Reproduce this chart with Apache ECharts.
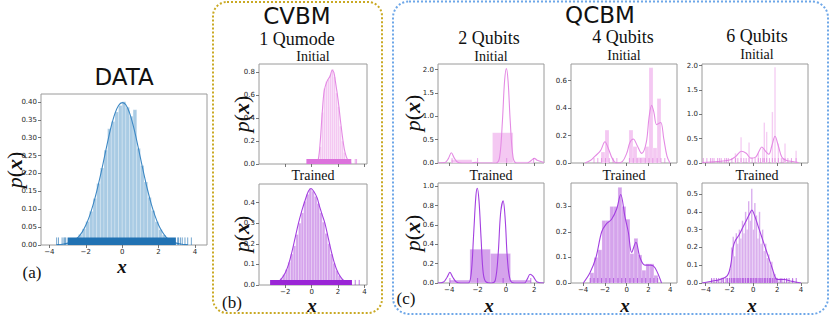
<!DOCTYPE html>
<html><head><meta charset="utf-8">
<script src="https://cdn.jsdelivr.net/npm/echarts@6/dist/echarts.min.js"></script>
<style>html,body{margin:0;padding:0;background:#fff}#c{width:830px;height:316px}</style>
</head><body><div id="c"></div>
<script>
// ---------------- values ----------------
// (a) DATA
const dataHist = [[-3.6,-3.4,0.002],[-3.4,-3.2,0.002],[-3.2,-3.0,0.004],[-3.0,-2.8,0.006],[-2.8,-2.6,0.011],[-2.6,-2.4,0.018],[-2.4,-2.2,0.029],[-2.2,-2.0,0.045],[-2.0,-1.8,0.066],[-1.8,-1.6,0.094],[-1.6,-1.4,0.13],[-1.4,-1.2,0.172],[-1.2,-1.0,0.215],[-1.0,-0.8,0.265],[-0.8,-0.6,0.325],[-0.6,-0.4,0.345],[-0.4,-0.2,0.372],[-0.2,0.0,0.39],[0.0,0.2,0.4],[0.2,0.4,0.385],[0.4,0.6,0.36],[0.6,0.8,0.378],[0.8,1.0,0.27],[1.0,1.2,0.222],[1.2,1.4,0.176],[1.4,1.6,0.133],[1.6,1.8,0.096],[1.8,2.0,0.065],[2.0,2.2,0.043],[2.2,2.4,0.028],[2.4,2.6,0.017],[2.6,2.8,0.01],[2.8,3.0,0.006],[3.0,3.2,0.003],[3.2,3.4,0.002],[3.6,3.8,0.002]];
const dataKde = [[-3.6,0.001],[-3.2,0.003],[-2.8,0.008],[-2.6,0.014],[-2.4,0.023],[-2.2,0.036],[-2.0,0.055],[-1.8,0.08],[-1.6,0.112],[-1.4,0.15],[-1.2,0.193],[-1.0,0.24],[-0.8,0.288],[-0.6,0.332],[-0.4,0.367],[-0.2,0.39],[0.0,0.398],[0.2,0.392],[0.4,0.37],[0.6,0.335],[0.8,0.292],[1.0,0.244],[1.2,0.197],[1.4,0.153],[1.6,0.114],[1.8,0.082],[2.0,0.056],[2.2,0.037],[2.4,0.023],[2.6,0.014],[2.8,0.008],[3.2,0.003],[3.6,0.001]];
const dataRug = [[-3.0,2.95],[-3.6,-3.6],[-3.5,-3.5],[-3.3,-3.3],[-3.2,-3.2],[-3.15,-3.15],[-3.1,-3.1],[3.05,3.05],[3.1,3.1],[3.2,3.2],[3.3,3.3],[3.45,3.45],[3.6,3.6],[3.8,3.8]];
const dataXTicks = [-4,-2,0,2,4];
const dataYTicks = [0,0.05,0.10,0.15,0.20,0.25,0.30,0.35,0.40];

// (b) CVBM, 1 qumode
const cvbmInitHist = [[0.45,0.6,0.02],[0.6,0.75,0.15],[0.75,0.9,0.45],[0.9,1.05,0.66],[1.05,1.2,0.72],[1.2,1.35,0.74],[1.35,1.5,0.78],[1.5,1.65,0.83],[1.65,1.8,0.76],[1.8,1.95,0.62],[1.95,2.1,0.5],[2.1,2.25,0.33],[2.25,2.4,0.2],[2.4,2.55,0.1],[2.55,2.7,0.04],[2.7,2.85,0.015]];
const cvbmInitKde = [[0.3,0],[0.5,0.04],[0.65,0.2],[0.8,0.45],[0.95,0.64],[1.15,0.72],[1.4,0.77],[1.55,0.82],[1.68,0.8],[1.8,0.72],[2.0,0.56],[2.2,0.36],[2.4,0.18],[2.55,0.09],[2.75,0.03],[3.0,0.005]];
const cvbmInitRug = [[-0.4,3.0],[3.3,3.3],[3.4,3.4]];
const cvbmTrainHist = [[-3.0,-2.8,0.005],[-2.8,-2.6,0.01],[-2.6,-2.4,0.018],[-2.4,-2.2,0.032],[-2.2,-2.0,0.05],[-2.0,-1.8,0.075],[-1.8,-1.6,0.11],[-1.6,-1.4,0.15],[-1.4,-1.2,0.19],[-1.2,-1.0,0.245],[-1.0,-0.8,0.3],[-0.8,-0.6,0.35],[-0.6,-0.4,0.405],[-0.4,-0.2,0.44],[-0.2,0.0,0.468],[0.0,0.2,0.455],[0.2,0.4,0.43],[0.4,0.6,0.395],[0.6,0.8,0.35],[0.8,1.0,0.305],[1.0,1.2,0.25],[1.2,1.4,0.2],[1.4,1.6,0.15],[1.6,1.8,0.105],[1.8,2.0,0.07],[2.0,2.2,0.045],[2.2,2.4,0.028],[2.4,2.6,0.016],[2.6,2.8,0.009],[2.8,3.0,0.005],[3.0,3.2,0.003]];
const cvbmTrainKde = [[-3.0,0.003],[-2.6,0.012],[-2.3,0.03],[-2.0,0.06],[-1.75,0.1],[-1.5,0.16],[-1.25,0.23],[-1.0,0.3],[-0.75,0.36],[-0.5,0.41],[-0.25,0.455],[-0.05,0.468],[0.15,0.455],[0.4,0.425],[0.6,0.38],[0.8,0.34],[1.0,0.3],[1.25,0.23],[1.5,0.16],[1.75,0.1],[2.0,0.06],[2.3,0.03],[2.6,0.012],[3.0,0.003]];
const cvbmTrainRug = [[-3.15,3.05],[3.3,3.3],[3.6,3.6]];
const cvbmXTicks = [-2,0,2,4];
const cvbmInitYTicks = [0,0.2,0.4,0.6,0.8];
const cvbmTrainYTicks = [0,0.1,0.2,0.3,0.4];

// (c) QCBM, 2 qubits
const q2InitHist = [[-3.85,-2.4,0.07],[-2.4,-0.95,0.008],[-0.95,0.5,0.65],[0.5,1.95,0.025]];
const q2InitKde = [[-4.8,0],[-4.3,0.01],[-4.05,0.1],[-3.85,0.22],[-3.65,0.11],[-3.4,0.015],[-3.1,0],[-2.4,0],[-2.1,0.015],[-1.9,0],[-0.7,0],[-0.45,0.12],[-0.25,0.9],[-0.1,1.75],[0.03,2.02],[0.15,1.75],[0.3,0.9],[0.5,0.12],[0.75,0],[1.5,0],[1.8,0.06],[2.0,0.1],[2.2,0.06],[2.68,0.01]];
const q2InitRug = [[-3.8,-3.8],[-2.0,-2.0],[0.05,0.05],[1.95,1.95]];
const q2TrainHist = [[-3.96,-2.54,0.03],[-2.54,-1.1,0.35],[-1.1,0.32,0.305],[0.32,1.74,0.03]];
const q2TrainKde = [[-4.8,0],[-4.4,0.01],[-4.15,0.06],[-3.95,0.11],[-3.75,0.06],[-3.5,0.01],[-3.2,0],[-2.65,0],[-2.45,0.1],[-2.28,0.5],[-2.12,0.9],[-2.02,0.98],[-1.9,0.85],[-1.75,0.45],[-1.6,0.1],[-1.4,0.01],[-1.0,0],[-0.75,0.03],[-0.55,0.3],[-0.38,0.72],[-0.2,0.85],[-0.05,0.65],[0.1,0.25],[0.3,0.03],[0.6,0],[1.3,0],[1.5,0.04],[1.7,0.09],[1.9,0.07],[2.2,0.01],[2.68,0]];
const q2TrainRug = [[-3.95,-3.95],[-2.0,-2.0],[-0.2,-0.2],[1.75,1.75]];
const q2XTicks = [-4,-2,0,2];
const q2InitYTicks = [0,0.5,1.0,1.5,2.0];
const q2TrainYTicks = [0,0.2,0.4,0.6,0.8,1.0];

// (c) QCBM, 4 qubits
const q4InitHist = [[-2.36,-1.99,0.08],[-1.99,-1.62,0.24],[0.21,0.58,0.24],[0.58,0.95,0.12],[0.95,1.31,0.04],[1.31,1.68,0.04],[1.68,2.05,0.12],[2.05,2.42,0.695],[2.42,2.79,0.11],[2.79,3.15,0.47]];
const q4InitKde = [[-3.83,0],[-3.3,0.02],[-2.9,0.05],[-2.4,0.09],[-1.99,0.155],[-1.7,0.11],[-1.3,0.03],[-0.92,0.0],[-0.4,0.01],[0.0,0.07],[0.3,0.15],[0.61,0.175],[0.95,0.13],[1.38,0.07],[1.8,0.15],[2.05,0.33],[2.29,0.42],[2.5,0.37],[2.75,0.28],[3.12,0.295],[3.4,0.18],[3.7,0.05],[3.97,0]];
const q4InitRug = [[-3.0,-3.0],[-2.65,-2.65],[-2.3,-2.3],[-1.95,-1.95],[-1.6,-1.6],[-1.25,-1.25],[-0.9,-0.9],[0.25,0.25],[0.6,0.6],[0.95,0.95],[1.3,1.3],[1.7,1.7],[2.05,2.05],[2.4,2.4],[2.8,2.8],[3.15,3.15],[3.5,3.5]];
const q4TrainHist = [[-3.37,-3.0,0.04],[-3.0,-2.64,0.1],[-2.64,-2.27,0.13],[-2.27,-1.9,0.245],[-1.9,-1.54,0.245],[-1.54,-1.17,0.3],[-1.17,-0.8,0.3],[-0.8,-0.44,0.375],[-0.44,-0.07,0.3],[-0.07,0.3,0.25],[0.3,0.67,0.115],[0.67,1.03,0.175],[1.03,1.4,0.11],[1.4,1.77,0.05],[1.77,2.13,0.075],[2.13,2.5,0.075],[2.5,2.87,0.03]];
const q4TrainKde = [[-3.98,0],[-3.37,0.04],[-2.82,0.1],[-2.3,0.2],[-1.9,0.23],[-1.38,0.25],[-0.92,0.29],[-0.55,0.347],[-0.16,0.26],[0.15,0.2],[0.46,0.12],[0.85,0.16],[1.22,0.1],[1.68,0.07],[2.2,0.07],[2.6,0.06],[3.2,0]];
const q4TrainRug = [[-3.35,-3.35],[-3.0,-3.0],[-2.65,-2.65],[-2.3,-2.3],[-1.9,-1.9],[-1.55,-1.55],[-1.2,-1.2],[-0.8,-0.8],[-0.45,-0.45],[-0.1,-0.1],[0.3,0.3],[0.65,0.65],[1.0,1.0],[1.4,1.4],[1.75,1.75],[2.15,2.15],[2.5,2.5],[2.85,2.85]];
const q4XTicks = [-4,-2,0,2,4];
const q4InitYTicks = [0,0.2,0.4,0.6];
const q4TrainYTicks = [0,0.1,0.2,0.3];

// (c) QCBM, 6 qubits
const q6InitHist = [[-1.56,-1.44,0.2],[-1.09,-0.97,0.53],[-0.42,-0.3,0.42],[0.36,0.48,0.2],[0.74,0.86,0.3],[0.86,0.98,0.83],[1.06,1.18,0.64],[1.54,1.66,1.05],[1.76,1.88,1.97],[2.04,2.16,0.4],[2.6,2.72,0.4],[3.53,3.65,0.25]];
const q6InitKde = [[-4.3,0.01],[-3.0,0.03],[-2.0,0.06],[-1.5,0.13],[-1.0,0.24],[-0.6,0.2],[-0.2,0.1],[0.2,0.12],[0.5,0.25],[0.71,0.33],[1.0,0.25],[1.3,0.18],[1.55,0.35],[1.82,0.55],[2.1,0.35],[2.4,0.12],[2.8,0.05],[3.3,0.03],[3.8,0.01]];
const q6InitRug = [[-4.2,-4.2],[-3.9,-3.9],[-3.6,-3.6],[-3.45,-3.45],[-3.3,-3.3],[-3.0,-3.0],[-2.85,-2.85],[-2.7,-2.7],[-2.4,-2.4],[-2.25,-2.25],[-2.1,-2.1],[-1.8,-1.8],[-1.5,-1.5],[-1.3,-1.3],[-1.03,-1.03],[-0.8,-0.8],[-0.6,-0.6],[-0.36,-0.36],[-0.1,-0.1],[0.15,0.15],[0.42,0.42],[0.6,0.6],[0.8,0.8],[0.92,0.92],[1.12,1.12],[1.35,1.35],[1.6,1.6],[1.82,1.82],[2.1,2.1],[2.35,2.35],[2.5,2.5],[2.66,2.66],[2.9,2.9],[3.2,3.2],[3.59,3.59]];
const q6TrainHist = [[-3.56,-3.44,0.02],[-3.06,-2.94,0.02],[-2.66,-2.54,0.03],[-2.26,-2.14,0.03],[-2.01,-1.89,0.08],[-1.88,-1.76,0.2],[-1.75,-1.63,0.26],[-1.62,-1.5,0.15],[-1.49,-1.37,0.28],[-1.36,-1.24,0.22],[-1.23,-1.11,0.3],[-1.1,-0.98,0.25],[-0.97,-0.85,0.35],[-0.84,-0.72,0.28],[-0.71,-0.59,0.4],[-0.58,-0.46,0.3],[-0.45,-0.33,0.46],[-0.32,-0.2,0.35],[-0.19,-0.07,0.53],[-0.06,0.06,0.3],[0.07,0.19,0.45],[0.2,0.32,0.38],[0.33,0.45,0.25],[0.46,0.58,0.4],[0.59,0.71,0.22],[0.72,0.84,0.3],[0.85,0.97,0.18],[0.98,1.1,0.22],[1.11,1.23,0.14],[1.24,1.36,0.16],[1.37,1.49,0.1],[1.5,1.62,0.12],[1.63,1.75,0.06],[1.76,1.88,0.05],[1.89,2.01,0.03],[2.24,2.36,0.02],[2.74,2.86,0.02],[3.24,3.36,0.02]];
const q6TrainKde = [[-4.3,0.0],[-3.5,0.01],[-2.8,0.02],[-2.2,0.04],[-1.9,0.1],[-1.7,0.2],[-1.5,0.24],[-1.2,0.27],[-0.9,0.31],[-0.6,0.35],[-0.3,0.39],[-0.13,0.41],[0.1,0.38],[0.4,0.32],[0.7,0.26],[1.0,0.2],[1.3,0.14],[1.6,0.08],[1.85,0.03],[2.0,0.02],[2.6,0.02],[3.2,0.01],[4.0,0]];
const q6TrainRug = [[-3.5,-3.5],[-3.3,-3.3],[-3.1,-3.1],[-2.9,-2.9],[-2.7,-2.7],[-2.5,-2.5],[-2.3,-2.3],[-2.15,-2.15],[-2.0,-2.0],[-1.85,-1.85],[-1.7,-1.7],[-1.6,-1.6],[-1.45,-1.45],[-1.3,-1.3],[-1.2,-1.2],[-1.05,-1.05],[-0.9,-0.9],[-0.8,-0.8],[-0.65,-0.65],[-0.5,-0.5],[-0.4,-0.4],[-0.25,-0.25],[-0.13,-0.13],[0.0,0.0],[0.15,0.15],[0.25,0.25],[0.4,0.4],[0.55,0.55],[0.65,0.65],[0.8,0.8],[0.95,0.95],[1.05,1.05],[1.2,1.2],[1.35,1.35],[1.45,1.45],[1.6,1.6],[1.75,1.75],[1.9,1.9],[2.05,2.05],[2.25,2.25],[2.4,2.4],[2.6,2.6],[2.8,2.8],[3.0,3.0],[3.3,3.3],[3.6,3.6]];
const q6XTicks = [-4,-2,0,2,4];
const q6InitYTicks = [0,0.5,1.0,1.5,2.0];
const q6TrainYTicks = [0,0.1,0.2,0.3,0.4,0.5];

// ---------------- styling / layout ----------------
const BLUE = {hist:'#a9cbe4', line:'#3d88c4', rug:'#2172b3'};
const PINK = {hist:'#f4c8f2', line:'#e48be4', rug:'#dc72dc'};
const PURP = {hist:'#d5a3ec', line:'#a33fe0', rug:'#9a25d6'};

const panels = [
  {box:[41,94,166,151], xr:[-4.46,4.66], xt:dataXTicks, xl:true, yr:[0,0.422], yt:dataYTicks, dec:2, h:dataHist, k:dataKde, r:dataRug, c:BLUE},
  {box:[259,64,108,100], xr:[-3.99,4.19], xt:cvbmXTicks, xl:false, yr:[0,0.874], yt:cvbmInitYTicks, dec:1, h:cvbmInitHist, k:cvbmInitKde, r:cvbmInitRug, c:PINK},
  {box:[259,184,108,101], xr:[-3.99,4.19], xt:cvbmXTicks, xl:true, yr:[0,0.49], yt:cvbmTrainYTicks, dec:1, h:cvbmTrainHist, k:cvbmTrainKde, r:cvbmTrainRug, c:PURP},
  {box:[438,64,106,99], xr:[-4.79,2.68], xt:q2XTicks, xl:false, yr:[0,2.12], yt:q2InitYTicks, dec:1, h:q2InitHist, k:q2InitKde, r:q2InitRug, c:PINK},
  {box:[438,183,106,100], xr:[-4.79,2.68], xt:q2XTicks, xl:true, yr:[0,1.035], yt:q2TrainYTicks, dec:1, h:q2TrainHist, k:q2TrainKde, r:q2TrainRug, c:PURP},
  {box:[571,64,106,99], xr:[-5.11,4.62], xt:q4XTicks, xl:false, yr:[0,0.722], yt:q4InitYTicks, dec:1, h:q4InitHist, k:q4InitKde, r:q4InitRug, c:PINK},
  {box:[571,183,106,100], xr:[-5.11,4.62], xt:q4XTicks, xl:true, yr:[0,0.392], yt:q4TrainYTicks, dec:1, h:q4TrainHist, k:q4TrainKde, r:q4TrainRug, c:PURP},
  {box:[702,64,106,99], xr:[-4.31,4.59], xt:q6XTicks, xl:false, yr:[0,2.035], yt:q6InitYTicks, dec:1, h:q6InitHist, k:q6InitKde, r:q6InitRug, c:PINK},
  {box:[702,183,106,100], xr:[-4.31,4.59], xt:q6XTicks, xl:true, yr:[0,0.562], yt:q6TrainYTicks, dec:1, h:q6TrainHist, k:q6TrainKde, r:q6TrainRug, c:PURP}
];

function histRender(color){
  return function(params, api){
    const a = api.coord([api.value(0), api.value(2)]);
    const b = api.coord([api.value(1), 0]);
    return {type:'rect', shape:{x:a[0], y:a[1], width:b[0]-a[0], height:b[1]-a[1]},
      style:{fill:color, stroke:'rgba(255,255,255,0.55)', lineWidth:0.4}};
  };
}
function rugRender(color){
  return function(params, api){
    const a = api.coord([api.value(0), 0]);
    const b = api.coord([api.value(1), 0]);
    const h = params.coordSys.height * 0.05;
    if (b[0] - a[0] < 0.5) {
      return {type:'line', shape:{x1:a[0], y1:a[1], x2:a[0], y2:a[1]-h}, style:{stroke:color, lineWidth:0.8, opacity:0.8}};
    }
    return {type:'rect', shape:{x:a[0], y:a[1]-h, width:b[0]-a[0], height:h}, style:{fill:color}};
  };
}
const minus = s => String(s).replace('-', '\u2212');
const TICKFONT = {fontSize:7, color:'#262626', fontFamily:'DejaVu Sans'};

const grid = [], xAxis = [], yAxis = [], series = [];
panels.forEach((p, i) => {
  grid.push({left:p.box[0], top:p.box[1], width:p.box[2], height:p.box[3], show:true,
    borderColor:'#9a9a9a', borderWidth:1, backgroundColor:'transparent'});
  xAxis.push({type:'value', gridIndex:i, min:p.xr[0], max:p.xr[1], splitLine:{show:false},
    axisLine:{show:false, onZero:false},
    axisTick:{show:true, length:3, customValues:p.xt, lineStyle:{color:'#555', width:0.8}},
    axisLabel:Object.assign({show:p.xl, customValues:p.xt, margin:3, formatter:v => minus(v)}, TICKFONT)});
  yAxis.push({type:'value', gridIndex:i, min:p.yr[0], max:p.yr[1], splitLine:{show:false},
    axisLine:{show:false, onZero:false},
    axisTick:{show:true, length:3, customValues:p.yt, lineStyle:{color:'#555', width:0.8}},
    axisLabel:Object.assign({customValues:p.yt, margin:4, formatter:v => Number(v).toFixed(p.dec)}, TICKFONT)});
  series.push({type:'custom', xAxisIndex:i, yAxisIndex:i, data:p.h, encode:{x:[0,1], y:2},
    renderItem:histRender(p.c.hist), z:1, silent:true, clip:true});
  series.push({type:'line', xAxisIndex:i, yAxisIndex:i, data:p.k, smooth:0.35, showSymbol:false,
    symbol:'none', lineStyle:{color:p.c.line, width:1.1}, z:3, silent:true, clip:true});
  series.push({type:'custom', xAxisIndex:i, yAxisIndex:i, data:p.r, encode:{x:[0,1]},
    renderItem:rugRender(p.c.rug), z:4, silent:true});
});

const SERIF = 'Liberation Serif';
function txt(x, y, text, size, family, extra){
  return {type:'text', x:x, y:y, z:10, style:Object.assign({text:text, fontSize:size, fontFamily:family,
    fill:'#111', align:'center', verticalAlign:'middle'}, extra || {})};
}
function px(x, y){
  return {type:'text', x:x, y:y, rotation:Math.PI/2, z:10, style:{text:'{p|p}{b|(}{x|x}{b|)}', align:'center', verticalAlign:'middle',
    rich:{p:{fontFamily:SERIF, fontStyle:'italic', fontSize:22, fill:'#111'},
          b:{fontFamily:SERIF, fontSize:22, fill:'#111'},
          x:{fontFamily:SERIF, fontStyle:'italic', fontWeight:'bold', fontSize:22, fill:'#111'}}}};
}
function xl(x, y){ return txt(x, y, 'x', 19, SERIF, {fontStyle:'italic', fontWeight:'bold'}); }

const graphic = [
  {type:'rect', shape:{x:213, y:2, width:169, height:311, r:14}, z:0,
    style:{fill:'none', stroke:'#c9a924', lineWidth:2, lineDash:[2,2]}},
  {type:'rect', shape:{x:393, y:1.5, width:435, height:312.5, r:16}, z:0,
    style:{fill:'none', stroke:'#6ea7e8', lineWidth:2, lineDash:[2,2]}},
  txt(124, 77, 'DATA', 23, 'DejaVu Sans'),
  txt(297, 16, 'CVBM', 23, 'DejaVu Sans'),
  txt(600, 15, 'QCBM', 23, 'DejaVu Sans'),
  txt(297, 39, '1 Qumode', 18, SERIF),
  txt(489, 38, '2 Qubits', 18, SERIF),
  txt(623, 37, '4 Qubits', 18, SERIF),
  txt(757, 36, '6 Qubits', 18, SERIF),
  txt(313, 56, 'Initial', 14, SERIF), txt(491, 56, 'Initial', 14, SERIF),
  txt(624, 55, 'Initial', 14, SERIF), txt(757, 54, 'Initial', 14, SERIF),
  txt(313, 175, 'Trained', 14, SERIF), txt(491, 175, 'Trained', 14, SERIF),
  txt(624, 175, 'Trained', 14, SERIF), txt(757, 175, 'Trained', 14, SERIF),
  txt(32, 272, '(a)', 17, SERIF), txt(232, 302, '(b)', 17, SERIF), txt(406, 298, '(c)', 17, SERIF),
  px(14, 170), px(241, 114), px(241, 234), px(412, 113), px(412, 233),
  xl(122, 266), xl(312, 305), xl(489, 305), xl(625, 305), xl(752, 305)
];

const chart = echarts.init(document.getElementById('c'), null, {renderer:'svg', width:830, height:316});
chart.setOption({animation:false, backgroundColor:'#fff', grid, xAxis, yAxis, series, graphic});
</script>
</body></html>
